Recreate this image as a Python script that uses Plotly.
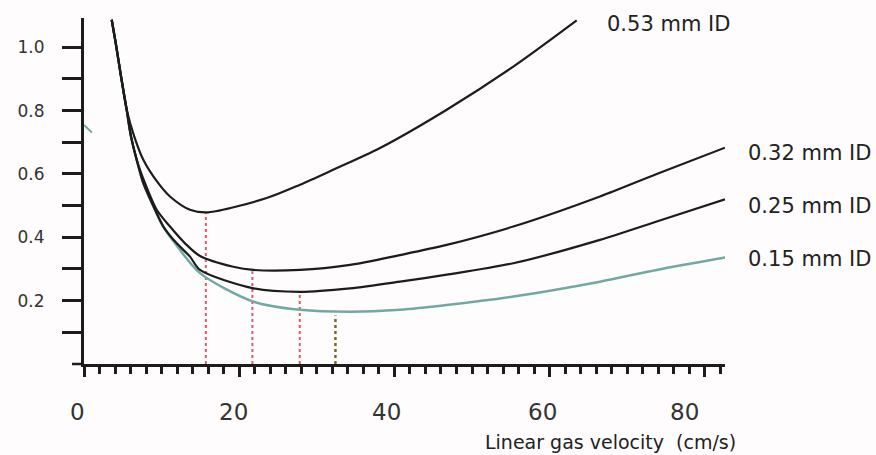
import plotly.graph_objects as go

# Linear gas velocity (cm/s) and plate height readings for each column ID
u_053 = [3.57, 4.09, 4.77, 5.50, 6.48, 7.64, 9.57, 11.08, 13.66, 16.0, 23.54, 27.84, 32.09, 38.14, 46.74, 55.32, 63.49]
h_053 = [1.087, 1.013, 0.908, 0.803, 0.718, 0.645, 0.571, 0.529, 0.487, 0.479, 0.524, 0.566, 0.613, 0.682, 0.803, 0.939, 1.085]

u_032 = [3.57, 4.09, 4.77, 5.50, 6.06, 6.79, 7.86, 9.37, 11.08, 13.02, 14.95, 19.24, 21.82, 27.84, 34.28, 40.72, 46.74, 55.32, 66.49, 73.80, 82.60]
h_032 = [1.087, 1.013, 0.908, 0.803, 0.718, 0.645, 0.571, 0.487, 0.434, 0.381, 0.341, 0.307, 0.297, 0.297, 0.313, 0.344, 0.376, 0.434, 0.529, 0.600, 0.683]

u_025 = [3.57, 4.09, 4.77, 5.50, 6.06, 6.79, 7.64, 9.15, 10.22, 11.95, 13.66, 14.95, 21.82, 27.84, 34.28, 40.72, 46.74, 55.32, 66.49, 73.80, 82.60]
h_025 = [1.087, 1.013, 0.908, 0.803, 0.718, 0.645, 0.571, 0.487, 0.434, 0.381, 0.339, 0.297, 0.239, 0.228, 0.239, 0.260, 0.282, 0.318, 0.392, 0.450, 0.520]

u_015 = [3.57, 4.09, 4.77, 5.50, 6.06, 6.79, 7.64, 9.15, 10.22, 11.73, 14.95, 21.82, 27.84, 34.28, 40.72, 46.74, 55.32, 66.49, 73.80, 82.60]
h_015 = [1.087, 1.013, 0.908, 0.803, 0.718, 0.645, 0.571, 0.487, 0.434, 0.381, 0.287, 0.197, 0.171, 0.165, 0.171, 0.186, 0.213, 0.260, 0.297, 0.336]

# short stray stroke next to the H axis
u_stub = [0.0, 1.0]
h_stub = [0.755, 0.731]

# optimum velocities (drop lines) and the plate height where each line stops
u_opt_red = [15.7, 21.7, 27.8]
h_opt_red = [0.479, 0.293, 0.226]
u_opt_olive = [32.4]
h_opt_olive = [0.153]

curve_labels = ["0.53 mm ID", "0.32 mm ID", "0.25 mm ID", "0.15 mm ID"]
x_tick_vals = [0, 20, 40, 60, 80]
x_tick_text = ["0", "20", "40", "60", "80"]
y_tick_vals = [0.2, 0.4, 0.6, 0.8, 1.0]
y_tick_text = ["0.2", "0.4", "0.6", "0.8", "1.0"]
y_minor_vals = [0.1, 0.3, 0.5, 0.7, 0.9]
x_title = "Linear gas velocity\u00a0\u00a0(cm/s)"

FONT = "DejaVu Sans, Liberation Sans, Arial"
BLACK = "#1c1c1c"
TEAL = "#72a8a2"
RED = "#e05a6a"
OLIVE = "#7d6b1e"
BG = "#fefcfd"

fig = go.Figure()

# drop lines at the optimum velocities
for u, h in zip(u_opt_red, h_opt_red):
    fig.add_trace(go.Scatter(x=[u, u], y=[0, h], mode="lines",
                             line=dict(color=RED, width=2, dash="dot"),
                             hoverinfo="skip"))
for u, h in zip(u_opt_olive, h_opt_olive):
    fig.add_trace(go.Scatter(x=[u, u], y=[0, h], mode="lines",
                             line=dict(color=OLIVE, width=2.5, dash="dot"),
                             hoverinfo="skip"))

# 0.15 mm curve first so the black curves sit on top where they coincide
fig.add_trace(go.Scatter(x=u_015, y=h_015, mode="lines", name=curve_labels[3],
                         line=dict(color=TEAL, width=2.5, shape="spline", smoothing=0.8)))
fig.add_trace(go.Scatter(x=u_stub, y=h_stub, mode="lines",
                         line=dict(color=TEAL, width=2), hoverinfo="skip"))

for u, h, name in [(u_025, h_025, curve_labels[2]),
                   (u_032, h_032, curve_labels[1]),
                   (u_053, h_053, curve_labels[0])]:
    fig.add_trace(go.Scatter(x=u, y=h, mode="lines", name=name,
                             line=dict(color=BLACK, width=2.2, shape="spline", smoothing=0.8)))

L, R, T, B = 84, 151, 18, 91
W, H = 876, 455
pw, ph = W - L - R, H - T - B

def px_x(px):
    return (px - L) / pw

def px_y(py):
    return (H - B - py) / ph

annotations = []
# curve labels at the right end of each curve
label_pos = [(605, 24), (746, 152.5), (746, 206), (746, 259)]
for text, (px, py) in zip(curve_labels, label_pos):
    annotations.append(dict(x=px_x(px), y=px_y(py), xref="paper", yref="paper",
                            text=text, showarrow=False, xanchor="left", yanchor="middle",
                            font=dict(family=FONT, size=21, color="#222222")))

# velocity tick labels
x_label_shift = [-7, -6, -8, -7, -20]
for v, t, s in zip(x_tick_vals, x_tick_text, x_label_shift):
    annotations.append(dict(x=v, y=px_y(411.5), xref="x", yref="paper", text=t,
                            showarrow=False, xanchor="center", yanchor="middle", xshift=s,
                            font=dict(family=FONT, size=23, color="#333333")))

annotations.append(dict(x=px_x(610), y=px_y(442), xref="paper", yref="paper",
                        text=x_title, showarrow=False, xanchor="center", yanchor="middle",
                        borderpad=0,
                        font=dict(family=FONT, size=19, color="#222222")))

fig.update_layout(
    width=W, height=H,
    margin=dict(l=L, r=R, t=T, b=B, pad=0),
    paper_bgcolor=BG, plot_bgcolor=BG,
    showlegend=False,
    annotations=annotations,
    shapes=[
        # x axis line continues a little to the left of the H axis
        dict(type="line", xref="paper", yref="paper", x0=-12 / pw, x1=0, y0=0, y1=0,
             line=dict(color=BLACK, width=2.5)),
    ],
)

fig.update_xaxes(
    range=[0, 82.6], showgrid=False, zeroline=False,
    showline=True, linecolor=BLACK, linewidth=2.5,
    tickmode="array", tickvals=x_tick_vals, showticklabels=False,
    ticks="outside", ticklen=10, tickwidth=3, tickcolor=BLACK,
    minor=dict(dtick=2, tick0=0, ticks="outside", ticklen=7, tickwidth=3, tickcolor=BLACK),
)

fig.update_yaxes(
    range=[0, 1.0925], showgrid=False, zeroline=False,
    showline=True, linecolor=BLACK, linewidth=3,
    tickmode="array", tickvals=y_tick_vals, ticktext=y_tick_text,
    ticks="outside", ticklen=19, tickwidth=2.5, tickcolor=BLACK,
    ticklabelstandoff=14,
    tickfont=dict(family=FONT, size=17, color="#333333"),
    minor=dict(tickvals=y_minor_vals, ticks="outside", ticklen=19, tickwidth=2.5, tickcolor=BLACK),
)

fig.write_html("out.html")
